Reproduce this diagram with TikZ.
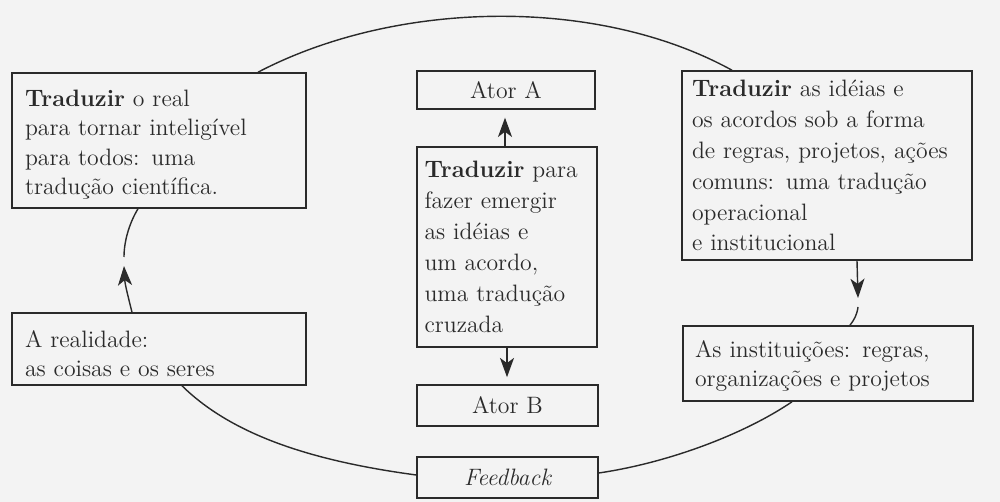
\documentclass[tikz,border=0pt]{standalone}
\usepackage{fontspec}
\usetikzlibrary{arrows.meta}
\definecolor{bg}{HTML}{F3F3F3}
\definecolor{ink}{HTML}{2A2A2A}
\tikzset{
  box/.style={draw=ink, line width=0.9pt, rectangle, inner ysep=2pt, text=ink,
    font=\fontsize{13.5pt}{17.6pt}\selectfont},
  tbox/.style={box, align=left},
  ring/.style={draw=ink, line width=0.8pt},
  tipped/.style={ring, -{Stealth[length=11pt,width=8pt,inset=3pt]}},
}
\begin{document}
\begin{tikzpicture}[x=0.02cm, y=-0.02cm]
\useasboundingbox (0,0) rectangle (1000,502);
\fill[bg] (0,0) rectangle (1000,502);

% boxes
\node[tbox, minimum width=5.88cm, minimum height=2.7cm, inner xsep=0.26cm, text width=5.36cm,
  font=\fontsize{13.5pt}{16.6pt}\selectfont, text height=14pt]
  (real1) at (159,140.5)
  {\textbf{Traduzir} o real\\para tornar inteligível\\para todos: uma\\tradução científica.};
\node[box, minimum width=3.56cm, minimum height=0.76cm] (atorA) at (506,90) {Ator A};
\node[tbox, minimum width=3.6cm, minimum height=4cm, inner xsep=0.15cm, text width=3.3cm]
  (mid) at (507,247)
  {\textbf{Traduzir} para\\fazer emergir\\as idéias e\\um acordo,\\uma tradução\\cruzada};
\node[box, minimum width=3.62cm, minimum height=0.82cm] (atorB) at (507.5,405.5) {Ator B};
\node[box, minimum width=3.62cm, minimum height=0.82cm] (fb) at (507.5,477.5) {\itshape Feedback};
\node[tbox, minimum width=5.8cm, minimum height=3.78cm, inner xsep=0.2cm, text width=5.4cm]
  (rbox) at (827,165.5)
  {\textbf{Traduzir} as idéias e\\os acordos sob a forma\\de regras, projetos, ações\\comuns: uma tradução\\operacional\\e institucional};
\node[tbox, minimum width=5.88cm, minimum height=1.44cm, inner xsep=0.26cm, text width=5.36cm,
  font=\fontsize{13.5pt}{17pt}\selectfont, text height=15pt]
  (real) at (159,349)
  {A realidade:\\as coisas e os seres};
\node[tbox, minimum width=5.8cm, minimum height=1.5cm, inner xsep=0.24cm, text width=5.32cm,
  font=\fontsize{13.5pt}{16.5pt}\selectfont, text height=12pt]
  (inst) at (828,363.5)
  {As instituições: regras,\\organizações e projetos};

% middle arrows
\draw[tipped, shorten >=4.5pt] (mid.north -| 505,0) -- (atorA.south -| 505,0);
\draw[tipped, shorten >=4pt] (mid.south -| 507,0) -- (atorB.north -| 507,0);

% the loop
\coordinate (tipR) at (858,298);
\coordinate (resR) at (858,307);
\coordinate (tipL) at (124,266);
\coordinate (resL) at (124,257);

\draw[ring] (real1.north -| 258,0) .. controls (396,0) and (597,-4) .. (rbox.north -| 732,0);
\draw[tipped] (rbox.south -| 857,0) -- (tipR);
\draw[ring] (resR) .. controls (857,315) and (854,320) .. (inst.north -| 850,0);
\draw[ring] (inst.south -| 792,0) .. controls (743,435) and (667,463) .. (fb.east |- 0,473);
\draw[ring] (fb.west |- 0,475) .. controls (320,462) and (235,438) .. (real.south -| 182,0);
\draw[tipped] (real.north -| 132,0) .. controls (129,300) and (125,285) .. (tipL);
\draw[ring] (resL) .. controls (124,240) and (130,222) .. (real1.south -| 138,0);
\end{tikzpicture}
\end{document}
